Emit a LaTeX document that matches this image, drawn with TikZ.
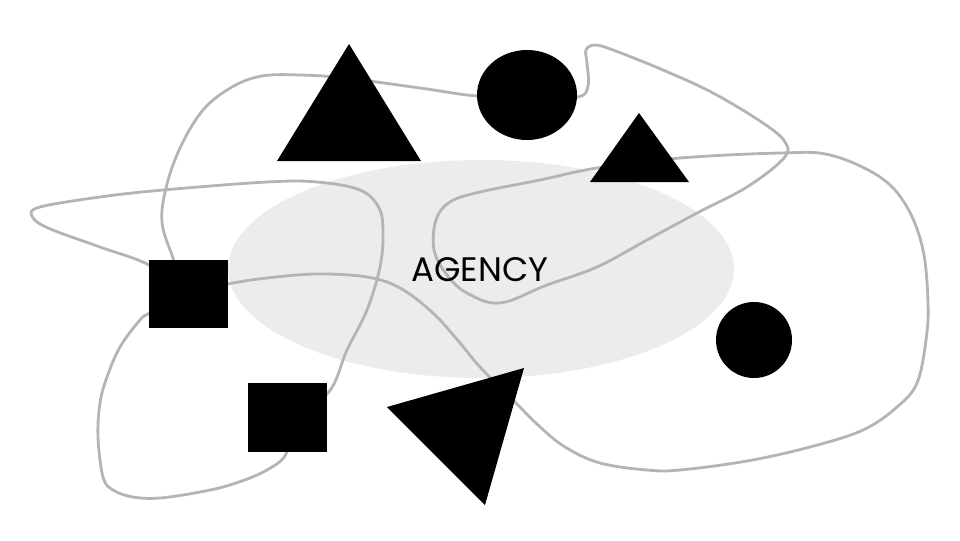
\documentclass[tikz,border=0pt]{standalone}
\usepackage{fontspec}
\setmainfont{Poppins}
\usepackage{xcolor}
\usetikzlibrary{shapes.geometric}
\definecolor{blobgray}{HTML}{ECECEC}
\definecolor{wiregray}{HTML}{B4B4B4}
\pgfdeclarelayer{back}
\pgfdeclarelayer{wires}
\pgfsetlayers{back,wires,main}

\begin{document}
\begin{tikzpicture}[x=0.75pt, y=-0.75pt,
    wire/.style={draw=wiregray, line width=2.1pt, smooth, tension=0.6},
    blk/.style={fill=black, draw=none, inner sep=0pt},
    sqbox/.style={blk, rectangle, minimum width=59.25pt, minimum height=51.5pt}]

\useasboundingbox (0,0) rectangle (960,540);

% Agency field
\begin{pgfonlayer}{back}
\node[ellipse, fill=blobgray, minimum width=379.5pt, minimum height=163.5pt] (field) at (481,269) {};
\end{pgfonlayer}

% Shapes
\fill (349,44) -- (277,161) -- (421,161) -- cycle;  % top triangle
\fill (639,113) -- (590,182) -- (689,182) -- cycle;  % small triangle
\fill (387,407) -- (524,368) -- (485,505) -- cycle;  % tilted triangle
\node[blk, ellipse, minimum width=75pt, minimum height=67.5pt] (dotA) at (527,95) {};
\node[blk, circle, minimum size=57pt] (dotB) at (754,340) {};
\node[sqbox] (sqA) at (188.5,294) {};
\node[sqbox] (sqB) at (287.5,417.5) {};

% Label
\node[font=\fontsize{25.5}{30}\selectfont, text=black] (agency) at (480,270) {AGENCY};

% Wires
\begin{pgfonlayer}{wires}
% long loop through the top shapes
\draw[wire] plot[smooth cycle] coordinates {(sqA.center) (172,255) (162,222) (166,188)
    (180,148) (203,110) (232,87) (262,76) (300,75) (345,78) (420,88) (478,96) (dotA.center)
    (577,97) (588,86) (587,63) (586,50) (595,45) (613,50) (663,70) (713,93) (763,123)
    (785,142) (784,158) (747,187) (697,213) (647,240) (597,267) (547,285) (500,303)
    (467,293) (447,275) (434,250) (436,220) (450,202) (480,192) (540,180) (597,168)
    (680,158) (780,153) (830,155) (880,177) (907,207) (923,250) (928,303) (926,340)
    (917,383) (897,407) (863,430) (810,447) (747,461) (680,470) (647,470) (600,463)
    (565,447) (538,425) (513,400) (480,367) (460,343) (433,313) (400,288) (367,277)
    (317,274) (267,278) (228,284)};
% left loop through both squares
\draw[wire] plot[smooth cycle] coordinates {(sqA.center) (149,265) (100,247) (48,228)
    (32,216) (40,207) (100,197) (163,190) (267,182) (317,182) (360,190) (379,208)
    (383,233) (380,267) (367,310) (347,350) (328,393) (sqB.center) (287,452) (267,470)
    (233,484) (200,492) (160,498) (133,497) (113,490) (103,477) (98,437) (100,403)
    (107,377) (120,347) (140,320) (150,313)};
\end{pgfonlayer}

\end{tikzpicture}
\end{document}
